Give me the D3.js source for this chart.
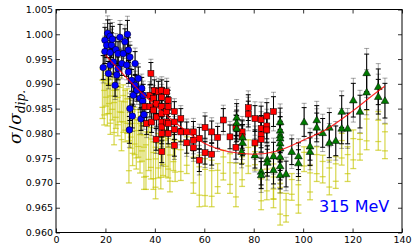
<!doctype html>
<html lang="en">
<head>
<meta charset="utf-8">
<title>sigma / sigma dip - 315 MeV</title>
<script src="https://cdn.jsdelivr.net/npm/d3@7"></script>
<style>
  html, body { margin: 0; padding: 0; background: #fff; }
  svg { display: block; }
  .tick text { font-family: "DejaVu Sans", sans-serif; font-size: 9.5px; fill: #000; }
</style>
</head>
<body>
<svg width="415" height="251"></svg>
<script>
// ---- data: [x, sigma/sigma_dip, error] ----
var bluePts = [
  [19.1,0.9933,0.0024],[19.8,0.9988,0.0026],[19.8,0.9965,0.0024],[20.5,0.9978,0.0025],[20.9,1.0002,0.0027],
  [21.2,0.9921,0.0024],[21.9,0.9996,0.0026],[21.9,0.9963,0.0024],[21.9,0.9938,0.0023],[22.5,0.9978,0.0025],
  [22.8,0.9990,0.0026],[23.2,0.9944,0.0024],[23.9,0.9897,0.0022],[24.2,0.9969,0.0025],[24.6,0.9918,0.0023],
  [25.1,0.9961,0.0024],[25.1,0.9931,0.0023],[25.9,0.9994,0.0026],[26.6,0.9941,0.0024],[27.2,0.9961,0.0024],
  [27.9,0.9985,0.0026],[28.6,0.9938,0.0023],[28.9,1.0000,0.0028],[29.3,0.9968,0.0025],[29.3,0.9924,0.0023],
  [29.7,0.9807,0.0027],[29.9,0.9954,0.0024],[29.9,0.9850,0.0024],[30.6,0.9907,0.0022],[30.9,0.9835,0.0024],
  [31.3,0.9877,0.0022],[32.0,0.9941,0.0024],[32.0,0.9897,0.0022],[32.7,0.9887,0.0022],[33.3,0.9911,0.0023],
  [34.0,0.9871,0.0022],[34.4,0.9829,0.0023],[34.7,0.9891,0.0022],[35.1,0.9865,0.0022],[35.3,0.9877,0.0022],
  [35.6,0.9838,0.0023]
];
var redPts = [
  [36.0,0.9854,0.0022],[36.7,0.9820,0.0022],[38.0,0.9877,0.0021],[38.0,0.9854,0.0021],[38.4,0.9921,0.0022],
  [38.7,0.9823,0.0021],[39.4,0.9871,0.0020],[39.4,0.9847,0.0020],[39.8,0.9887,0.0021],[40.5,0.9788,0.0022],
  [40.7,0.9860,0.0020],[40.7,0.9833,0.0020],[41.4,0.9884,0.0021],[42.8,0.9887,0.0021],[42.8,0.9873,0.0020],
  [42.8,0.9854,0.0020],[42.8,0.9840,0.0020],[42.8,0.9823,0.0020],[42.8,0.9813,0.0020],[42.8,0.9800,0.0021],
  [42.8,0.9763,0.0022],[44.8,0.9884,0.0021],[44.8,0.9844,0.0020],[44.8,0.9823,0.0020],[45.4,0.9867,0.0020],
  [45.4,0.9854,0.0020],[45.4,0.9820,0.0020],[45.4,0.9800,0.0021],[47.9,0.9844,0.0020],[47.9,0.9823,0.0020],
  [47.9,0.9808,0.0020],[47.9,0.9776,0.0022],[50.5,0.9830,0.0020],[50.5,0.9803,0.0020],[52.9,0.9803,0.0020],
  [52.9,0.9781,0.0021],[55.6,0.9803,0.0021],[55.6,0.9786,0.0021],[55.6,0.9771,0.0021],[58.0,0.9790,0.0022],
  [58.0,0.9746,0.0023],[60.3,0.9812,0.0023],[60.3,0.9761,0.0023],[63.0,0.9803,0.0022],[63.0,0.9758,0.0022],
  [65.4,0.9792,0.0022],[67.7,0.9827,0.0023],[70.4,0.9793,0.0024],[72.8,0.9813,0.0024],[72.8,0.9772,0.0024],
  [75.3,0.9803,0.0024],[75.3,0.9793,0.0024],[77.8,0.9852,0.0026],[77.8,0.9839,0.0026],[80.5,0.9830,0.0026],
  [80.5,0.9781,0.0026],[83.0,0.9828,0.0027],[83.0,0.9810,0.0026],[83.0,0.9797,0.0026],[83.0,0.9788,0.0026],
  [85.3,0.9835,0.0027],[85.3,0.9815,0.0026],[85.3,0.9807,0.0026],[88.0,0.9844,0.0030]
];
var greenPts = [
  [73.1,0.9832,0.0028],[73.1,0.9821,0.0026],[73.1,0.9810,0.0026],[75.5,0.9792,0.0026],[75.5,0.9781,0.0026],
  [75.1,0.9763,0.0025],[80.5,0.9756,0.0026],[83.0,0.9723,0.0027],[83.0,0.9716,0.0027],[85.5,0.9748,0.0027],
  [85.5,0.9741,0.0027],[88.0,0.9754,0.0028],[88.0,0.9726,0.0028],[90.7,0.9823,0.0028],[90.7,0.9806,0.0028],
  [90.7,0.9796,0.0028],[90.7,0.9790,0.0028],[90.7,0.9780,0.0028],[90.7,0.9770,0.0028],[90.7,0.9753,0.0028],
  [90.7,0.9734,0.0028],[90.7,0.9716,0.0028],[93.1,0.9718,0.0026],[95.4,0.9763,0.0026],[98.1,0.9754,0.0027],
  [98.1,0.9740,0.0027],[100.4,0.9823,0.0029],[102.8,0.9774,0.0028],[102.8,0.9763,0.0028],[105.5,0.9827,0.0029],
  [105.5,0.9812,0.0029],[107.9,0.9801,0.0029],[110.6,0.9812,0.0030],[110.6,0.9781,0.0030],[113.2,0.9785,0.0030],
  [115.6,0.9844,0.0032],[115.6,0.9810,0.0031],[118.0,0.9810,0.0031],[120.3,0.9867,0.0034],[123.0,0.9844,0.0033],
  [125.7,0.9922,0.0038],[125.7,0.9883,0.0035],[130.4,0.9894,0.0036],[130.4,0.9874,0.0035],[133.1,0.9866,0.0035]
];
var yellowPts = [
  [18.8,0.9880,0.0050],[19.5,0.9862,0.0045],[20.2,0.9895,0.0040],[20.8,0.9870,0.0055],[21.5,0.9885,0.0045],
  [22.0,0.9848,0.0050],[22.8,0.9875,0.0048],[23.5,0.9832,0.0055],[24.2,0.9860,0.0050],[25.0,0.9845,0.0050],
  [25.8,0.9868,0.0045],[26.5,0.9815,0.0050],[27.2,0.9850,0.0048],[28.0,0.9835,0.0052],[28.8,0.9845,0.0045],
  [29.5,0.9755,0.0055],[30.2,0.9820,0.0050],[31.0,0.9790,0.0055],[31.8,0.9805,0.0048],[32.5,0.9778,0.0050],
  [33.3,0.9800,0.0048],[34.0,0.9770,0.0050],[34.8,0.9790,0.0046],[35.6,0.9742,0.0055],[36.4,0.9745,0.0058],
  [37.5,0.9775,0.0050],[38.4,0.9760,0.0052],[39.4,0.9735,0.0048],[40.3,0.9720,0.0052],[41.4,0.9755,0.0045],
  [42.4,0.9740,0.0052],[43.3,0.9765,0.0050],[44.4,0.9760,0.0048],[45.4,0.9750,0.0040],[46.1,0.9730,0.0048],
  [47.5,0.9765,0.0040],[48.2,0.9745,0.0042],[50.5,0.9745,0.0040],[52.9,0.9756,0.0037],[55.6,0.9726,0.0047],
  [58.0,0.9704,0.0052],[60.3,0.9701,0.0048],[63.0,0.9699,0.0047],[65.4,0.9709,0.0030],[67.7,0.9736,0.0030],
  [70.4,0.9719,0.0040],[72.8,0.9696,0.0044],[75.3,0.9723,0.0030],[77.8,0.9753,0.0034],[80.5,0.9750,0.0024],
  [83.0,0.9686,0.0040],[85.3,0.9706,0.0040],[88.0,0.9713,0.0046],[88.0,0.9690,0.0040],[90.7,0.9664,0.0049],
  [90.7,0.9723,0.0043],[93.1,0.9650,0.0029],[95.4,0.9692,0.0027],[98.1,0.9676,0.0037],[100.4,0.9748,0.0025],
  [102.8,0.9701,0.0035],[105.5,0.9738,0.0035],[107.9,0.9728,0.0028],[110.6,0.9711,0.0035],[113.2,0.9721,0.0032],
  [115.6,0.9768,0.0032],[118.0,0.9738,0.0035],[120.3,0.9768,0.0039],[123.0,0.9773,0.0027],[125.7,0.9807,0.0040],
  [130.4,0.9805,0.0039],[133.1,0.9784,0.0035]
];
// fit curve
var fitX = [20, 30, 40, 50, 60, 70, 80, 90, 100, 110, 120, 130, 133];
var fitY = [0.9958, 0.9905, 0.9857, 0.9815, 0.9780, 0.9763, 0.9758, 0.9765, 0.9786, 0.9810, 0.9845, 0.9884, 0.9895];
var xTicks = [0, 20, 40, 60, 80, 100, 120, 140];
var yTicks = [0.960, 0.965, 0.970, 0.975, 0.980, 0.985, 0.990, 0.995, 1.000, 1.005];
var energyLabel = "315 MeV";

var svg = d3.select("svg");
var padL = 56, padR = 402, padT = 9.5, padB = 232.5;

var x = d3.scaleLinear().domain([0, 140]).range([padL, padR]);
var y = d3.scaleLinear().domain([0.960, 1.005]).range([padB, padT]);

var plot = svg.append("g");

// yellow error bars (no marker, two cap levels)
var yel = plot.append("g")
  .attr("stroke", "#c4c400").attr("stroke-opacity", 0.65).attr("stroke-width", 1.3).attr("fill", "none");
yellowPts.forEach(function (d) {
  var cx = x(d[0]);
  yel.append("line").attr("x1", cx).attr("x2", cx).attr("y1", y(d[1] - d[2])).attr("y2", y(d[1] + d[2]));
  [d[2], -d[2], d[2] * 0.55, -d[2] * 0.55].forEach(function (e) {
    yel.append("line").attr("x1", cx - 3).attr("x2", cx + 3).attr("y1", y(d[1] + e)).attr("y2", y(d[1] + e));
  });
});

// black / gray error bars for the marked series
function errBars(pts) {
  var gray = plot.append("g").attr("stroke", "#000").attr("stroke-opacity", 0.35).attr("stroke-width", 1);
  var blk = plot.append("g").attr("stroke", "#000").attr("stroke-width", 1);
  pts.forEach(function (d) {
    var cx = x(d[0]);
    var eg = d[2] * 1.3;
    gray.append("line").attr("x1", cx).attr("x2", cx).attr("y1", y(d[1] - eg)).attr("y2", y(d[1] + eg));
    [eg, -eg].forEach(function (e) {
      gray.append("line").attr("x1", cx - 2.5).attr("x2", cx + 2.5).attr("y1", y(d[1] + e)).attr("y2", y(d[1] + e));
    });
    blk.append("line").attr("x1", cx).attr("x2", cx).attr("y1", y(d[1] - d[2])).attr("y2", y(d[1] + d[2]));
    [d[2], -d[2]].forEach(function (e) {
      blk.append("line").attr("x1", cx - 2.5).attr("x2", cx + 2.5).attr("y1", y(d[1] + e)).attr("y2", y(d[1] + e));
    });
  });
}
errBars(bluePts);
errBars(redPts);
errBars(greenPts);

// markers
plot.append("g").selectAll("circle").data(bluePts).join("circle")
  .attr("cx", function (d) { return x(d[0]); }).attr("cy", function (d) { return y(d[1]); })
  .attr("r", 3.3).attr("fill", "#0000ff").attr("stroke", "#000").attr("stroke-width", 0.5);

plot.append("g").selectAll("rect").data(redPts).join("rect")
  .attr("x", function (d) { return x(d[0]) - 3; }).attr("y", function (d) { return y(d[1]) - 3; })
  .attr("width", 6).attr("height", 6).attr("fill", "#ff0000").attr("stroke", "#000").attr("stroke-width", 0.5);

var tri = d3.symbol().type(d3.symbolTriangle).size(26);
plot.append("g").selectAll("path").data(greenPts).join("path")
  .attr("transform", function (d) { return "translate(" + x(d[0]) + "," + (y(d[1]) + 0.5) + ")"; })
  .attr("d", tri).attr("fill", "#007a00").attr("stroke", "#000").attr("stroke-width", 0.5);

// fit line
var line = d3.line().curve(d3.curveMonotoneX)
  .x(function (d, i) { return x(fitX[i]); })
  .y(function (d) { return y(d); });
plot.append("path").datum(fitY).attr("d", line)
  .attr("fill", "none").attr("stroke", "#ff0000").attr("stroke-opacity", 0.85).attr("stroke-width", 1.1);

// axes: inward ticks on all four sides
var fmtY = d3.format(".3f");
svg.append("g").attr("transform", "translate(0," + padB + ")")
  .call(d3.axisBottom(x).tickValues(xTicks).tickSizeInner(-4).tickSizeOuter(0).tickPadding(4))
  .call(function (g) { g.select(".domain").remove(); });
svg.append("g").attr("transform", "translate(0," + padT + ")")
  .call(d3.axisTop(x).tickValues(xTicks).tickSizeInner(-4).tickSizeOuter(0).tickFormat(""))
  .call(function (g) { g.select(".domain").remove(); });
svg.append("g").attr("transform", "translate(" + padL + ",0)")
  .call(d3.axisLeft(y).tickValues(yTicks).tickFormat(fmtY).tickSizeInner(-4).tickSizeOuter(0).tickPadding(3))
  .call(function (g) { g.select(".domain").remove(); });
svg.append("g").attr("transform", "translate(" + padR + ",0)")
  .call(d3.axisRight(y).tickValues(yTicks).tickSizeInner(-4).tickSizeOuter(0).tickFormat(""))
  .call(function (g) { g.select(".domain").remove(); });
svg.selectAll(".tick line").attr("stroke", "#000").attr("stroke-width", 0.8);

svg.append("rect").attr("x", padL).attr("y", padT).attr("width", padR - padL).attr("height", padB - padT)
  .attr("fill", "none").attr("stroke", "#000").attr("stroke-width", 1);

// y label
var lab = svg.append("text")
  .attr("transform", "translate(21,117) rotate(-90)")
  .attr("text-anchor", "middle")
  .style("font-family", "'DejaVu Serif', serif").style("font-size", "17px").style("font-style", "italic");
lab.append("tspan").text("σ");
lab.append("tspan").style("font-style", "normal").attr("dx", 1).text("/");
lab.append("tspan").attr("dx", 1).text("σ");
lab.append("tspan").attr("dy", 3.5).style("font-size", "12px").text("dip.");

// energy label
svg.append("text").attr("x", 319).attr("y", 212)
  .style("font-family", "'DejaVu Sans', sans-serif").style("font-size", "16px").attr("fill", "#0000ff")
  .text(energyLabel);
</script>
</body>
</html>
